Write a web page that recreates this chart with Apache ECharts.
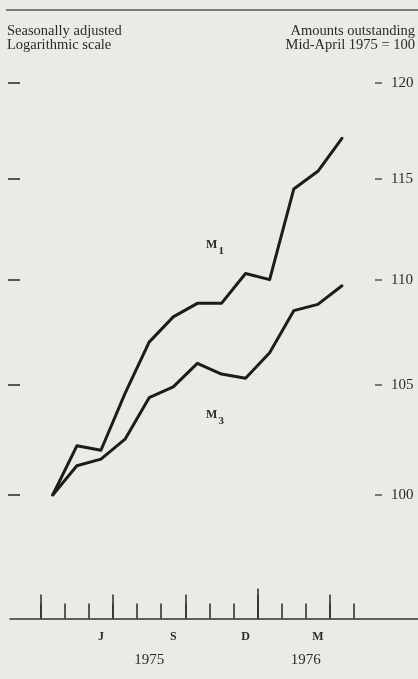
<!DOCTYPE html>
<html><head><meta charset="utf-8">
<script src="https://cdn.jsdelivr.net/npm/echarts@6/dist/echarts.min.js"></script>
<style>html,body{margin:0;padding:0;background:#ebebe6}#c{width:418px;height:679px}</style>
</head><body><div id="c"></div>
<script>
// ---- data ----
const months = ['1975-04','1975-05','1975-06','1975-07','1975-08','1975-09','1975-10',
                '1975-11','1975-12','1976-01','1976-02','1976-03','1976-04'];
const m1 = [100, 102.2, 102.0, 104.6, 107.0, 108.2, 108.85, 108.85, 110.3, 110.0, 114.5, 115.4, 117.1];
const m3 = [100, 101.3, 101.6, 102.5, 104.4, 104.9, 106.0, 105.5, 105.3, 106.5, 108.5, 108.8, 109.7];
const yTicks = [100, 105, 110, 115, 120];
const labelMonths = ['1975-06','1975-09','1975-12','1976-03'];
const monthLetters = ['J','S','D','M'];
const years = ['1975','1976'];

// ---- derived ----
const FONT = 'Liberation Serif';
const INK = '#2a2a2a';
const nB = months.length;                       // boundaries 0..nB
const boundaries = Array.from({length: nB + 1}, (_, i) => i);
const monthNum = i => i < nB ? +months[i].slice(5) : (+months[nB-1].slice(5)) % 12 + 1;
const quarterB = boundaries.filter(i => [1,4,7,10].includes(monthNum(i)));
const yearB = boundaries.filter(i => monthNum(i) === 1);
const labelPos = labelMonths.map(m => months.indexOf(m) + 0.5);
const yearCenters = years.map(y => {
  const idx = months.map((m, i) => m.startsWith(y) ? i : -1).filter(i => i >= 0);
  return (idx[0] + idx[idx.length - 1] + 1) / 2;
});
const L = Math.log;
const toPts = arr => arr.map((v, i) => [i + 0.5, L(v)]);

const chart = echarts.init(document.getElementById('c'), null, {renderer: 'canvas'});
const baseX = {
  type: 'value', gridIndex: 0, position: 'bottom', offset: 123.5, min: 0, max: nB,
  axisLine: {show: false, onZero: false}, splitLine: {show: false}
};
const baseY = {
  type: 'value', gridIndex: 0, min: L(yTicks[0]), max: L(yTicks[yTicks.length-1]),
  axisLine: {show: false, onZero: false}, splitLine: {show: false}
};
const HF = '14.5px "Liberation Serif"';
chart.setOption({
  backgroundColor: '#ebebe6',
  animation: false,
  textStyle: {fontFamily: FONT},
  grid: [
    {left: 40.7, right: 64, top: 83, bottom: 184, containLabel: false, outerBoundsMode: 'none'},
    {left: 10, right: 0, bottom: 60.5, height: 10, containLabel: false, outerBoundsMode: 'none'}
  ],
  xAxis: [
    Object.assign({}, baseX, {
      axisTick: {show: true, inside: true, customValues: boundaries, length: 15, lineStyle: {color: '#333', width: 1.6}},
      axisLabel: {show: true, customValues: labelPos, margin: 12, fontSize: 12, fontWeight: 'bold',
        fontFamily: FONT, color: INK,
        formatter: v => monthLetters[labelPos.findIndex(p => Math.abs(p - v) < 1e-6)] || ''}
    }),
    Object.assign({}, baseX, {
      axisTick: {show: true, inside: true, customValues: quarterB, length: 24, lineStyle: {color: '#333', width: 1.6}},
      axisLabel: {show: false}
    }),
    Object.assign({}, baseX, {
      axisTick: {show: true, inside: true, customValues: yearB, length: 30, lineStyle: {color: '#333', width: 1.6}},
      axisLabel: {show: true, customValues: yearCenters, margin: 34, fontSize: 15,
        fontFamily: FONT, color: INK,
        formatter: v => years[yearCenters.findIndex(p => Math.abs(p - v) < 1e-6)] || ''}
    }),
    {type: 'value', gridIndex: 1, position: 'bottom', min: 0, max: 1,
     axisLine: {show: true, onZero: false, lineStyle: {color: '#333', width: 1.6}},
     axisTick: {show: false}, axisLabel: {show: false}, splitLine: {show: false}}
  ],
  yAxis: [
    Object.assign({}, baseY, {
      position: 'left', offset: 20.7,
      axisTick: {show: true, customValues: yTicks.map(L), length: 12, lineStyle: {color: '#555', width: 2}},
      axisLabel: {show: false}
    }),
    Object.assign({}, baseY, {
      position: 'right', offset: 21,
      axisTick: {show: true, customValues: yTicks.map(L), length: 7, lineStyle: {color: '#555', width: 1.5}},
      axisLabel: {show: true, customValues: yTicks.map(L), margin: 16, fontSize: 15,
        fontFamily: FONT, color: INK, formatter: v => String(Math.round(Math.exp(v)))}
    }),
    {type: 'value', gridIndex: 1, show: false}
  ],
  series: [
    {name: 'M1', type: 'line', xAxisIndex: 0, yAxisIndex: 0, data: toPts(m1), symbol: 'none',
     lineStyle: {color: '#1c1c1c', width: 3, join: 'round', cap: 'round'}},
    {name: 'M3', type: 'line', xAxisIndex: 0, yAxisIndex: 0, data: toPts(m3), symbol: 'none',
     lineStyle: {color: '#1c1c1c', width: 3, join: 'round', cap: 'round'}}
  ],
  graphic: [
    {type: 'line', shape: {x1: 6, y1: 10, x2: 418, y2: 10}, style: {stroke: '#555', lineWidth: 1.5}},
    {type: 'text', x: 7, y: 24, style: {text: 'Seasonally adjusted', font: HF, fill: INK}},
    {type: 'text', x: 7, y: 38, style: {text: 'Logarithmic scale', font: HF, fill: INK}},
    {type: 'text', x: 415, y: 24, style: {text: 'Amounts outstanding', align: 'right', font: HF, fill: INK}},
    {type: 'text', x: 415, y: 38, style: {text: 'Mid-April 1975 = 100', align: 'right', font: HF, fill: INK}},
    {type: 'text', x: 206, y: 239, style: {text: 'M', font: 'bold 12px "Liberation Serif"', fill: INK}},
    {type: 'text', x: 218.5, y: 246, style: {text: '1', font: 'bold 11px "Liberation Serif"', fill: INK}},
    {type: 'text', x: 206, y: 409, style: {text: 'M', font: 'bold 12px "Liberation Serif"', fill: INK}},
    {type: 'text', x: 218.5, y: 416, style: {text: '3', font: 'bold 11px "Liberation Serif"', fill: INK}}
  ]
});
</script>
</body></html>
